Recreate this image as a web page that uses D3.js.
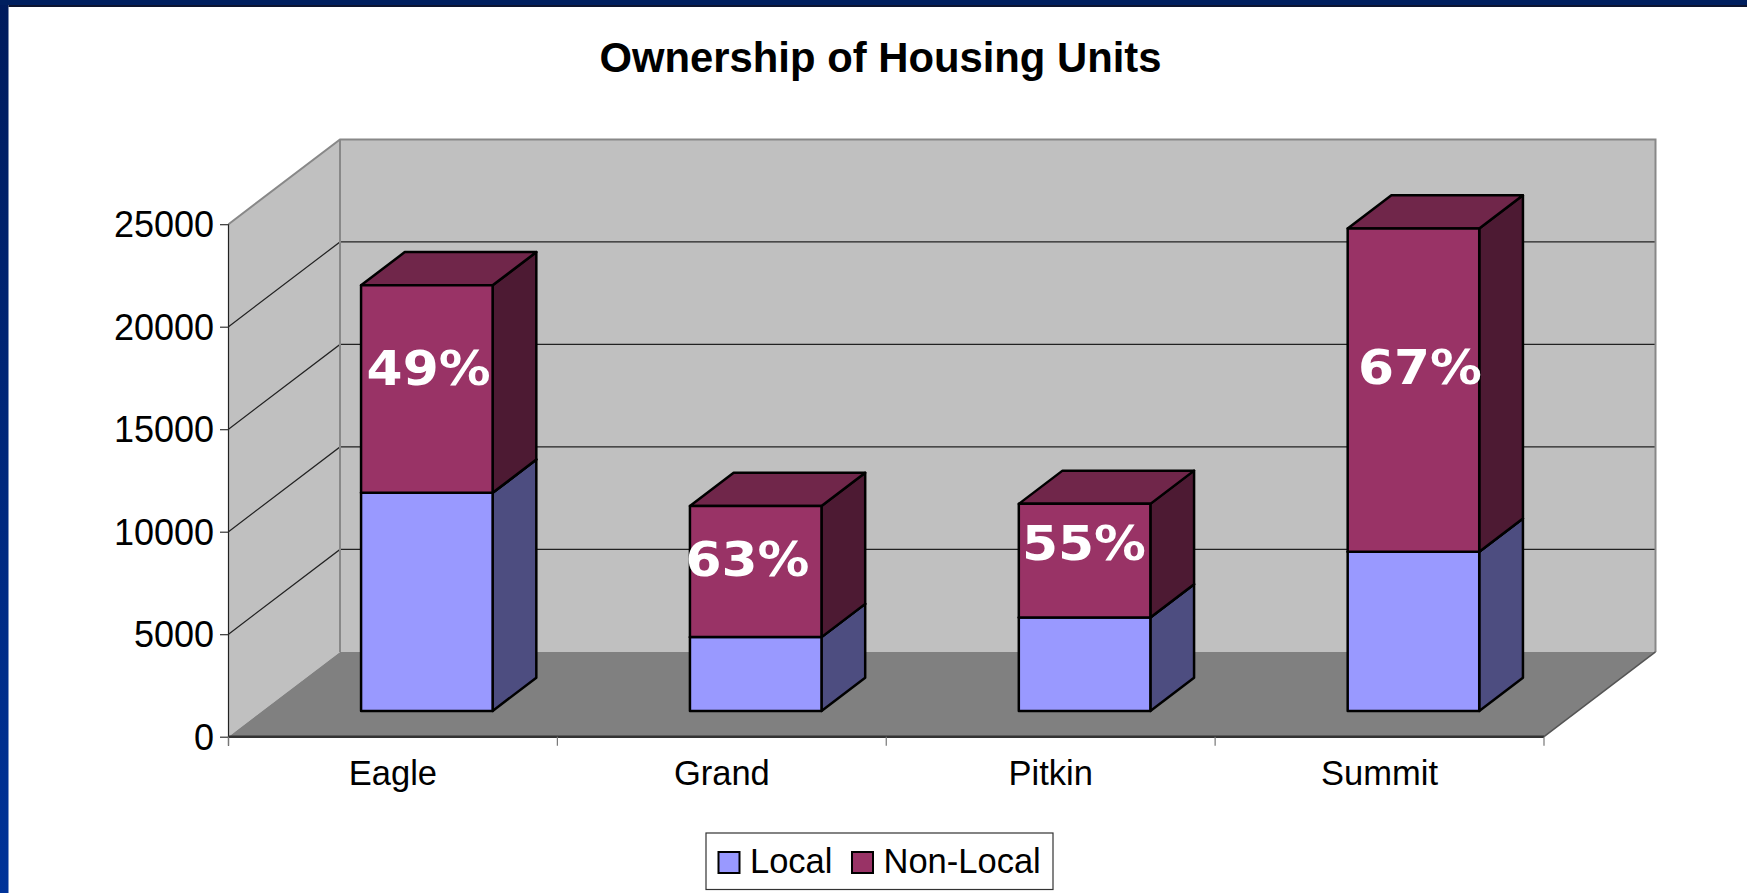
<!DOCTYPE html>
<html>
<head>
<meta charset="utf-8">
<script src="https://d3js.org/d3.v7.min.js"></script>
<style>
    html, body { margin: 0; padding: 0; background: #fff; overflow: hidden; }
    svg { display: block; }
    text { font-family: "Liberation Sans", Arial, sans-serif; fill: #000; }
</style>
</head>
<body>
<script>
// chart values
const categories = ["Eagle", "Grand", "Pitkin", "Summit"];
const seriesNames = ["Local", "Non-Local"];
const localUnits = [10640, 3600, 4560, 7760];
const nonLocalUnits = [10120, 6400, 5540, 15770];
const pctLabels = ["49%", "63%", "55%", "67%"];
const yTicks = [0, 5000, 10000, 15000, 20000, 25000];

const width = 1747, height = 893;

// where the hand placed percent labels sit
const pctLeft = [366.6, 685.5, 1022, 1358];
const pctBase = [385, 576, 560, 384];

const svg = d3.select("body").append("svg")
    .attr("width", width)
    .attr("height", height);

// slide background
const defs = svg.append("defs");
const edge = defs.append("linearGradient")
    .attr("id", "edge")
    .attr("x1", 0).attr("y1", 0).attr("x2", 0).attr("y2", 1);
edge.append("stop").attr("offset", 0).attr("stop-color", "#001b5c");
edge.append("stop").attr("offset", 1).attr("stop-color", "#003399");

svg.append("rect").attr("width", 8.5).attr("height", height).attr("fill", "url(#edge)");
svg.append("rect").attr("width", width).attr("height", 5).attr("fill", "#001f5f");
svg.append("rect").attr("x", 8.5).attr("y", 5).attr("width", width).attr("height", 2).attr("fill", "#0d1430");

svg.append("text")
    .attr("x", 880.5)
    .attr("y", 72)
    .attr("text-anchor", "middle")
    .attr("font-size", 41.8)
    .attr("font-weight", "bold")
    .text("Ownership of Housing Units");

// scales
const x = d3.scaleBand()
    .domain(categories)
    .range([228.5, 1544])
    .paddingInner(0.6)
    .paddingOuter(0.3);

const y = d3.scaleLinear()
    .domain([0, 25000])
    .range([736.7, 224.2]);

// the 3d look is just a shear going back into the page
const depthX = d3.scaleLinear().domain([0, 1]).range([0, 111.5]);
const depthY = d3.scaleLinear().domain([0, 1]).range([0, -84.8]);
const barFront = 0.304, barBack = 0.696;

function pt(px, value, d) {
    return [px + depthX(d), y(value) + depthY(d)];
}
const poly = d3.line();

const x0 = x.range()[0], x1 = x.range()[1];

// walls and floor
const walls = svg.append("g");
walls.append("path")
    .attr("d", poly([pt(x0, 0, 1), pt(x1, 0, 1), pt(x1, 25000, 1), pt(x0, 25000, 1)]) + "Z")
    .attr("fill", "#c0c0c0");
walls.append("path")
    .attr("d", poly([pt(x0, 0, 0), pt(x0, 0, 1), pt(x0, 25000, 1), pt(x0, 25000, 0)]) + "Z")
    .attr("fill", "#c0c0c0");
walls.append("path")
    .attr("d", poly([pt(x0, 0, 0), pt(x1, 0, 0), pt(x1, 0, 1), pt(x0, 0, 1)]) + "Z")
    .attr("fill", "#808080");

// gridlines over both walls
svg.append("g").selectAll("path")
    .data(yTicks.filter(d => d > 0 && d < 25000))
    .join("path")
    .attr("d", d => poly([pt(x0, d, 0), pt(x0, d, 1), pt(x1, d, 1)]))
    .attr("fill", "none")
    .attr("stroke", "#222")
    .attr("stroke-width", 1.2);

// wall outlines
svg.append("path")
    .attr("d", poly([pt(x0, 25000, 0), pt(x0, 25000, 1), pt(x1, 25000, 1), pt(x1, 0, 1)]))
    .attr("fill", "none")
    .attr("stroke", "#888")
    .attr("stroke-width", 2);
svg.append("path")
    .attr("d", poly([pt(x0, 25000, 1), pt(x0, 0, 1)]))
    .attr("stroke", "#888")
    .attr("stroke-width", 2);
svg.append("path")
    .attr("d", poly([pt(x1, 0, 0), pt(x1, 0, 1)]))
    .attr("stroke", "#555")
    .attr("stroke-width", 1.5);

// stacked boxes
const stackRows = categories.map((c, i) => ({ cat: c, Local: localUnits[i], "Non-Local": nonLocalUnits[i] }));
const stacked = d3.stack().keys(seriesNames)(stackRows);

const colors = d3.scaleOrdinal().domain(seriesNames).range(["#9999ff", "#993366"]);
const sideColors = d3.scaleOrdinal().domain(seriesNames).range(["#4d4d80", "#4d1a33"]);
const topColors = d3.scaleOrdinal().domain(seriesNames).range(["#737399", "#70264a"]);

stacked.forEach(function(layer) {
    const key = layer.key;
    const g = svg.append("g").attr("class", "layer");
    const boxes = layer.map((d, i) => {
        const l = x(categories[i]), r = l + x.bandwidth();
        return { l: l, r: r, lo: d[0], hi: d[1] };
    });
    // right side
    g.selectAll(".side").data(boxes).join("path")
        .attr("class", "side")
        .attr("d", d => poly([pt(d.r, d.lo, barFront), pt(d.r, d.lo, barBack), pt(d.r, d.hi, barBack), pt(d.r, d.hi, barFront)]) + "Z")
        .attr("fill", sideColors(key));
    // lid
    g.selectAll(".lid").data(boxes).join("path")
        .attr("class", "lid")
        .attr("d", d => poly([pt(d.l, d.hi, barFront), pt(d.r, d.hi, barFront), pt(d.r, d.hi, barBack), pt(d.l, d.hi, barBack)]) + "Z")
        .attr("fill", topColors(key));
    // front face
    g.selectAll(".front").data(boxes).join("path")
        .attr("class", "front")
        .attr("d", d => poly([pt(d.l, d.lo, barFront), pt(d.r, d.lo, barFront), pt(d.r, d.hi, barFront), pt(d.l, d.hi, barFront)]) + "Z")
        .attr("fill", colors(key));
    g.selectAll("path")
        .attr("stroke", "#000")
        .attr("stroke-width", 2.5)
        .attr("stroke-linejoin", "round");
});

// axes
const yAxis = svg.append("g")
    .attr("transform", `translate(${x0},0)`)
    .call(d3.axisLeft(y).tickValues(yTicks).tickSize(8.5).tickPadding(6).tickFormat(d3.format("d")));
yAxis.select(".domain").attr("d", `M0,${y(25000)}V${y(0) + 9}`).attr("stroke", "#222").attr("stroke-width", 1.2);
yAxis.selectAll(".tick line").attr("stroke", "#333").attr("stroke-width", 1.2);
yAxis.selectAll("text").attr("font-size", 36).attr("dy", "0.35em");

const xAxis = svg.append("g")
    .attr("transform", `translate(0,${y(0)})`)
    .call(d3.axisBottom(x).tickSize(0));
xAxis.select(".domain").attr("d", `M${x0},0H${x1}`).attr("stroke", "#333").attr("stroke-width", 2.5);
xAxis.selectAll("text").attr("font-size", 34.5).attr("y", 0).attr("dy", 48.5);

// category boundary ticks
const bounds = categories.map(c => x(c) - x.step() * 0.3).concat([x1]);
xAxis.selectAll(".bound").data(bounds).join("line")
    .attr("class", "bound")
    .attr("x1", d => d).attr("x2", d => d)
    .attr("y1", 0).attr("y2", 9)
    .attr("stroke", "#777")
    .attr("stroke-width", 1.2);

// percent labels
svg.append("g").selectAll("text")
    .data(pctLabels)
    .join("text")
    .attr("x", (d, i) => pctLeft[i])
    .attr("y", (d, i) => pctBase[i])
    .attr("textLength", 124)
    .attr("lengthAdjust", "spacingAndGlyphs")
    .style("font-family", "'DejaVu Sans', sans-serif")
    .style("font-weight", "bold")
    .style("font-size", "48px")
    .style("fill", "#fff")
    .text(d => d);

// legend
const legend = svg.append("g");
legend.append("rect")
    .attr("x", 706).attr("y", 833)
    .attr("width", 347).attr("height", 56.5)
    .attr("fill", "#fff")
    .attr("stroke", "#333")
    .attr("stroke-width", 1.2);
const legendSwatch = [718.5, 852];
const legendText = [750, 883.5];
seriesNames.forEach(function(name, i) {
    legend.append("rect")
        .attr("x", legendSwatch[i]).attr("y", 852)
        .attr("width", 21).attr("height", 21)
        .attr("fill", colors(name))
        .attr("stroke", "#000")
        .attr("stroke-width", 2);
    legend.append("text")
        .attr("x", legendText[i]).attr("y", 873)
        .attr("font-size", 34.5)
        .text(name);
});
</script>
</body>
</html>
